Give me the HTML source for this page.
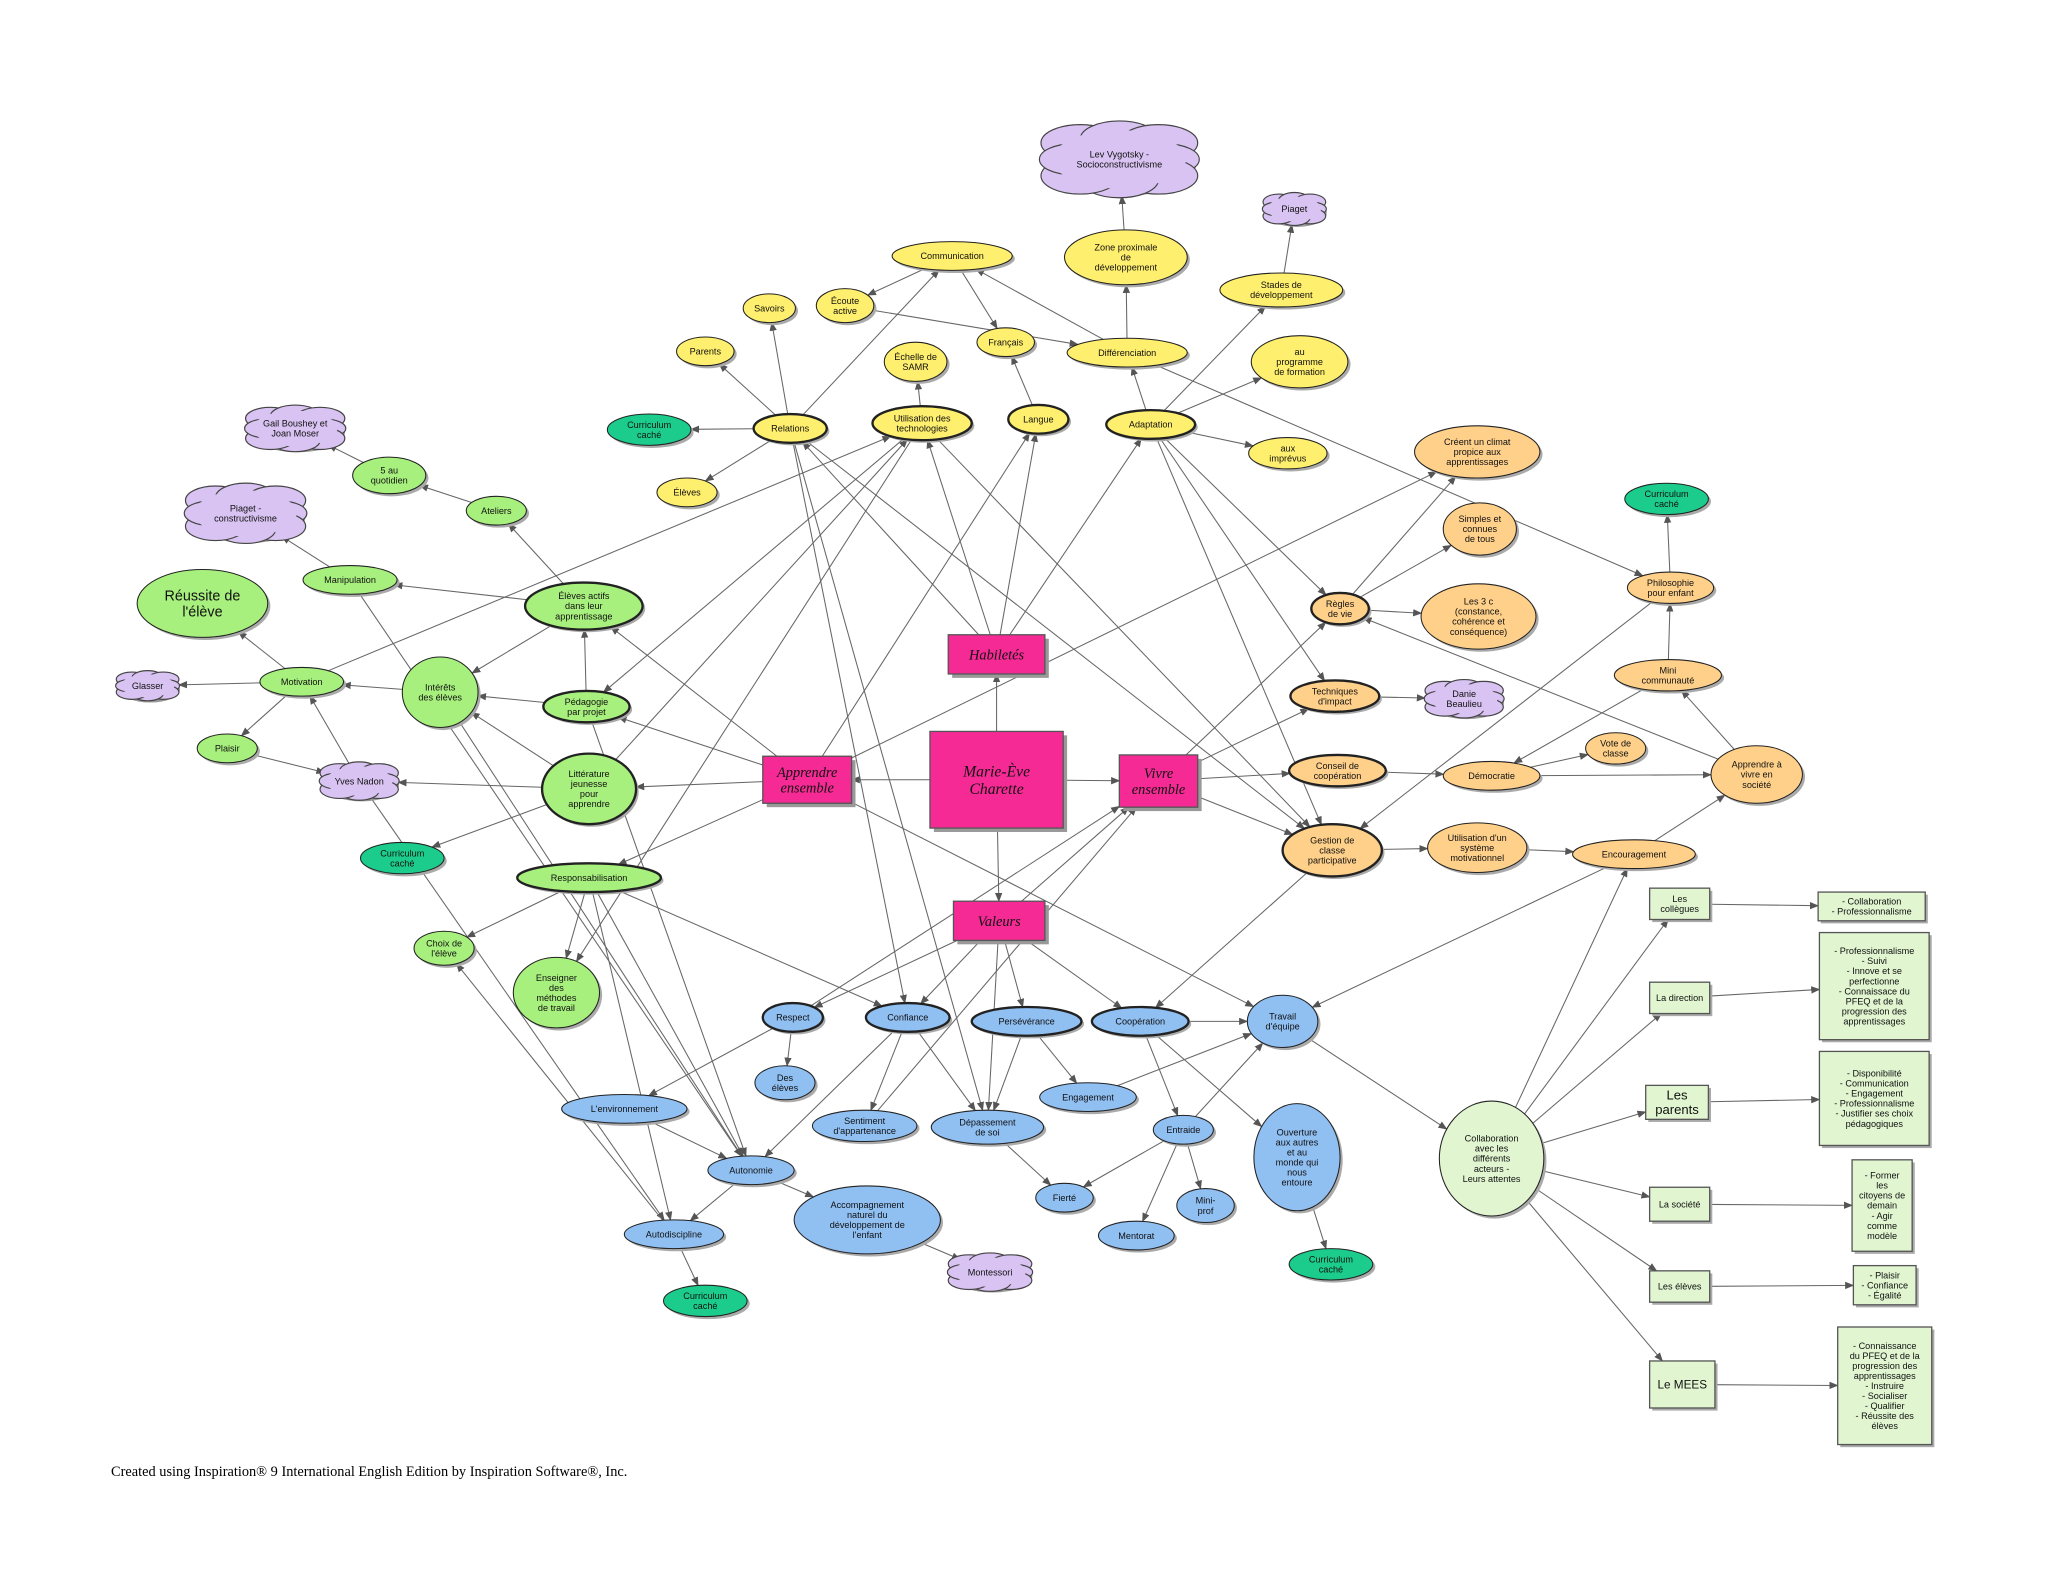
<!DOCTYPE html>
<html><head><meta charset="utf-8">
<style>
html,body{margin:0;padding:0;background:#fff;}
svg{display:block;}
</style></head>
<body>
<svg id="s" width="2048" height="1583" viewBox="0 0 1568 1212" xmlns="http://www.w3.org/2000/svg">
<defs>
<marker id="a" viewBox="0 0 10 10" refX="9" refY="5" markerWidth="7" markerHeight="7" orient="auto-start-reverse" markerUnits="userSpaceOnUse">
<path d="M0,1 L10,5 L0,9 z" fill="#555"/>
</marker>
</defs>
<g id="edges"></g>
<g id="nodes"></g>
<text x="85" y="1130" font-family="Liberation Serif, serif" font-size="11" fill="#000">Created using Inspiration® 9 International English Edition by Inspiration Software®, Inc.</text>
</svg>
<script>
var C={Y:'#ffef6e',G:'#a8f07e',T:'#1ccc8c',P:'#d9c3f2',K:'#f52a95',O:'#ffd08a',B:'#90bff2',L:'#e0f5d0'};
var N=[
['comm','e',729,196,46,11,'Y','Communication'],
['sav','e',589,236,20,11,'Y','Savoirs'],
['ecou','e',647,234,22,13,'Y','Écoute|active'],
['par','e',540,269,22,11,'Y','Parents'],
['samr','e',701,277,24,15,'Y','Échelle de|SAMR'],
['fr','e',770,262,22,11,'Y','Français'],
['diff','e',863,270,46,11,'Y','Différenciation'],
['zone','e',862,197,47,21,'Y','Zone proximale|de|développement'],
['stad','e',981,222,47,13,'Y','Stades de|développement'],
['prog','e',995,277,37,20,'Y','au|programme|de formation'],
['cc1','e',497,329,32,12,'T','Curriculum|caché'],
['rel','e',605,328,28,11,'Y','Relations',1],
['tech','e',706,324,38,13,'Y','Utilisation des|technologies',1],
['lang','e',795,321,23,11,'Y','Langue',1],
['adap','e',881,325,34,11,'Y','Adaptation',1],
['impr','e',986,347,30,12,'Y','aux|imprévus'],
['elv','e',526,377,23,11,'Y','Élèves'],
['lev','c',857,122,60,28,'P','Lev Vygotsky -|Socioconstructivisme'],
['pia','c',991,160,24,12,'P','Piaget'],
['gail','c',226,328,38,17,'P','Gail Boushey et|Joan Moser'],
['piac','c',188,393,46,22,'P','Piaget -|constructivisme'],
['glas','c',113,525,24,11,'P','Glasser'],
['yves','c',275,598,30,14,'P','Yves Nadon'],
['danie','c',1121,535,30,14,'P','Danie|Beaulieu'],
['mont','c',758,974,32,14,'P','Montessori'],
['five','e',298,364,28,14,'G','5 au|quotidien'],
['atel','e',380,391,23,11,'G','Ateliers'],
['manip','e',268,444,36,11,'G','Manipulation'],
['actif','e',447,464,45,18,'G','Élèves actifs|dans leur|apprentissage',1],
['reus','e',155,462,50,26,'G','Réussite de|l\'élève',0,11],
['motiv','e',231,522,32,11,'G','Motivation'],
['inter','e',337,530,29,27,'G','Intérêts|des élèves'],
['peda','e',449,541,33,12,'G','Pédagogie|par projet',1],
['plai','e',174,573,23,11,'G','Plaisir'],
['litt','e',451,604,36,27,'G','Littérature|jeunesse|pour|apprendre',1],
['cc2','e',308,657,32,12,'T','Curriculum|caché'],
['resp','e',451,672,55,11,'G','Responsabilisation',1],
['choix','e',340,726,23,13,'G','Choix de|l\'élève'],
['ens','e',426,760,33,27,'G','Enseigner|des|méthodes|de travail'],
['hab','r',763,501,37,15,'K','Habiletés'],
['app','r',618,597,34,18,'K','Apprendre|ensemble'],
['mec','r',763,597,51,37,'K','Marie-Ève|Charette'],
['viv','r',887,598,30,20,'K','Vivre|ensemble'],
['val','r',765,705,35,15,'K','Valeurs'],
['clim','e',1131,346,48,20,'O','Créent un climat|propice aux|apprentissages'],
['simp','e',1133,405,28,20,'O','Simples et|connues|de tous'],
['regl','e',1026,466,22,12,'O','Règles|de vie',1],
['c3','e',1132,472,44,25,'O','Les 3 c|(constance,|cohérence et|conséquence)'],
['techi','e',1022,533,34,12,'O','Techniques|d\'impact',1],
['cons','e',1024,590,37,12,'O','Conseil de|coopération',1],
['demo','e',1142,594,37,11,'O','Démocratie'],
['vote','e',1237,573,23,12,'O','Vote de|classe'],
['gest','e',1020,651,38,20,'O','Gestion de|classe|participative',1],
['sys','e',1131,649,38,19,'O','Utilisation d\'un|système|motivationnel'],
['enc','e',1251,654,47,11,'O','Encouragement'],
['philo','e',1279,450,33,12,'O','Philosophie|pour enfant'],
['cc3','e',1276,382,32,12,'T','Curriculum|caché'],
['mini','e',1277,517,41,12,'O','Mini|communauté'],
['avs','e',1345,593,35,22,'O','Apprendre à|vivre en|société'],
['respe','e',607,779,23,11,'B','Respect',1],
['conf','e',695,779,32,11,'B','Confiance',1],
['pers','e',786,782,42,11,'B','Persévérance',1],
['coop','e',873,782,37,11,'B','Coopération',1],
['trav','e',982,782,27,20,'B','Travail|d\'équipe'],
['dese','e',601,829,23,13,'B','Des|élèves'],
['eng','e',833,840,37,11,'B','Engagement'],
['env','e',478,849,48,11,'B','L\'environnement'],
['sent','e',662,862,40,12,'B','Sentiment|d\'appartenance'],
['dep','e',756,863,43,13,'B','Dépassement|de soi'],
['entr','e',906,865,23,11,'B','Entraide'],
['ouv','e',993,886,33,41,'B','Ouverture|aux autres|et au|monde qui|nous|entoure'],
['auto','e',575,896,33,11,'B','Autonomie'],
['acc','e',664,934,56,26,'B','Accompagnement|naturel du|développement de|l\'enfant'],
['fier','e',815,917,22,11,'B','Fierté'],
['minip','e',923,923,22,13,'B','Mini-|prof'],
['autod','e',516,945,38,11,'B','Autodiscipline'],
['ment','e',870,946,29,11,'B','Mentorat'],
['cc4','e',1019,968,32,12,'T','Curriculum|caché'],
['cc5','e',540,996,32,12,'T','Curriculum|caché'],
['collab','e',1142,887,40,44,'L','Collaboration|avec les|différents|acteurs -|Leurs attentes'],
['b1','r',1286,692,23,12,'L','Les|collègues'],
['b2','r',1286,764,23,12,'L','La direction'],
['b3','r',1284,844,24,13,'L','Les|parents',0,10],
['b4','r',1286,922,23,13,'L','La société'],
['b5','r',1286,985,23,12,'L','Les élèves'],
['b6','r',1288,1060,25,18,'L','Le MEES',0,9],
['r1','r',1433,694,41,11,'L','- Collaboration|- Professionnalisme'],
['r2','r',1435,755,42,41,'L','- Professionnalisme|- Suivi|- Innove et se|perfectionne|- Connaissace du|PFEQ et de la|progression des|apprentissages'],
['r3','r',1435,841,42,36,'L','- Disponibilité|- Communication|- Engagement|- Professionnalisme|- Justifier ses choix|pédagogiques'],
['r4','r',1441,923,23,35,'L','- Former|les|citoyens de|demain|- Agir|comme|modèle'],
['r5','r',1443,984,24,15,'L','- Plaisir|- Confiance|- Égalité'],
['r6','r',1443,1061,36,45,'L','- Connaissance|du PFEQ et de la|progression des|apprentissages|- Instruire|- Socialiser|- Qualifier|- Réussite des|élèves']
];
var E=[
['mec','hab'],['mec','app'],['mec','viv'],['mec','val'],
['hab','rel'],['hab','tech'],['hab','lang'],['hab','adap'],
['rel','par'],['rel','sav'],['rel','cc1'],['rel','elv'],['rel','comm'],
['comm','ecou'],['comm','fr'],['ecou','diff'],['diff','comm'],['diff','zone'],['zone','lev'],
['adap','diff'],['adap','stad'],['adap','prog'],['adap','impr'],['stad','pia'],
['tech','samr'],['lang','fr'],['diff','philo'],
['adap','regl'],['adap','techi'],['adap','gest'],
['rel','conf'],['rel','dep'],['tech','gest'],['rel','gest'],
['motiv','tech'],['litt','tech'],['tech','peda'],['tech','ens'],
['app','lang'],['app','peda'],['app','litt'],['app','actif'],['app','resp'],['app','clim'],['app','trav'],
['peda','actif'],['peda','inter'],['peda','auto'],
['actif','atel'],['actif','manip'],['actif','inter'],
['atel','five'],['five','gail'],['manip','piac'],
['motiv','reus'],['motiv','glas'],['motiv','plai'],['inter','motiv'],['yves','motiv'],['plai','yves'],
['litt','yves'],['litt','inter'],['litt','cc2'],
['manip','auto'],['inter','auto'],
['resp','choix'],['resp','ens'],['resp','auto'],['resp','conf'],['resp','autod'],
['yves','autod'],['autod','choix'],['env','auto'],['respe','env'],['respe','dese'],
['val','respe'],['val','conf'],['val','pers'],['val','coop'],['val','dep'],['val','viv'],
['conf','sent'],['conf','dep'],['conf','auto'],
['pers','eng'],['pers','dep'],
['coop','trav'],['coop','entr'],['coop','ouv'],['eng','trav'],
['entr','fier'],['entr','ment'],['entr','minip'],['entr','trav'],['dep','fier'],
['auto','autod'],['auto','acc'],['acc','mont'],['autod','cc5'],['ouv','cc4'],
['trav','collab'],['sent','viv'],['respe','viv'],
['viv','cons'],['viv','gest'],['viv','regl'],['viv','techi'],
['regl','clim'],['regl','simp'],['regl','c3'],['techi','danie'],
['cons','demo'],['demo','vote'],['demo','avs'],['mini','demo'],['avs','mini'],['avs','regl'],
['mini','philo'],['philo','cc3'],['philo','gest'],
['gest','sys'],['sys','enc'],['enc','avs'],['gest','coop'],['enc','trav'],['collab','enc'],
['collab','b1'],['collab','b2'],['collab','b3'],['collab','b4'],['collab','b5'],['collab','b6'],
['b1','r1'],['b2','r2'],['b3','r3'],['b4','r4'],['b5','r5'],['b6','r6']
];
var M={};N.forEach(function(n){M[n[0]]=n;});
var ns='http://www.w3.org/2000/svg';
function el(t,a,p){var e=document.createElementNS(ns,t);for(var k in a)e.setAttribute(k,a[k]);p.appendChild(e);return e;}
function clip(n,dx,dy){var k;if(n[1]=='r'){k=Math.min(n[4]/Math.abs(dx||1e-9),n[5]/Math.abs(dy||1e-9));}else{k=1/Math.sqrt(Math.pow(dx/n[4],2)+Math.pow(dy/n[5],2));}return [n[2]+dx*k,n[3]+dy*k];}
var ge=document.getElementById('edges'),gn=document.getElementById('nodes');
E.forEach(function(e){var a=M[e[0]],b=M[e[1]];var dx=b[2]-a[2],dy=b[3]-a[3];
var p=clip(a,dx,dy),q=clip(b,-dx,-dy);
el('line',{x1:p[0],y1:p[1],x2:q[0],y2:q[1],stroke:'#666','stroke-width':0.8,'marker-end':'url(#a)'},ge);});
N.forEach(function(n){var f=C[n[6]],sw=n[8]?1.8:0.8;
if(n[1]=='r'){
 if(n[6]=='K')el('rect',{x:n[2]-n[4]+3,y:n[3]-n[5]+3,width:2*n[4],height:2*n[5],fill:'#999'},gn);
 else el('rect',{x:n[2]-n[4]+2,y:n[3]-n[5]+2,width:2*n[4],height:2*n[5],fill:'#aaa'},gn);
 el('rect',{x:n[2]-n[4],y:n[3]-n[5],width:2*n[4],height:2*n[5],fill:f,stroke:'#555','stroke-width':1},gn);
}else if(n[1]=='c'){
 var rx=n[4],ry=n[5];
 el('ellipse',{cx:n[2]+2,cy:n[3]+3,rx:rx*0.95,ry:ry*0.9,fill:'#999'},gn);
 var g=el('g',{},gn);
 var pts=[[-0.5,-0.45,0.5],[0,-0.55,0.5],[0.5,-0.45,0.5],[0.6,0,0.42],[0.5,0.45,0.5],[0,0.55,0.5],[-0.5,0.45,0.5],[-0.6,0,0.42]];
 pts.forEach(function(p){el('ellipse',{cx:n[2]+p[0]*rx,cy:n[3]+p[1]*ry,rx:rx*p[2],ry:ry*p[2],fill:f,stroke:'#444','stroke-width':0.9},g);});
 el('ellipse',{cx:n[2],cy:n[3],rx:rx*0.85,ry:ry*0.8,fill:f},g);
}else{
 el('ellipse',{cx:n[2]+2,cy:n[3]+2,rx:n[4],ry:n[5],fill:'#aaa'},gn);
 el('ellipse',{cx:n[2],cy:n[3],rx:n[4],ry:n[5],fill:f,stroke:'#222','stroke-width':sw},gn);
}
var lines=n[7].split('|');var fs=n[9]||(n[6]=='K'?(n[0]=='mec'?12:11):7);var lh=fs*1.1;
var y0=n[3]-(lines.length-1)*lh/2+fs*0.35;
var isK=n[6]=='K';
lines.forEach(function(l,i){var t=el('text',{x:n[2],y:y0+i*lh,'text-anchor':'middle','font-size':fs,
 'font-family':isK?'Liberation Serif, serif':'Liberation Sans, DejaVu Sans, sans-serif',
 'font-style':isK?'italic':'normal',fill:'#111'},gn);t.textContent=l;});
});
</script>
</body></html>
